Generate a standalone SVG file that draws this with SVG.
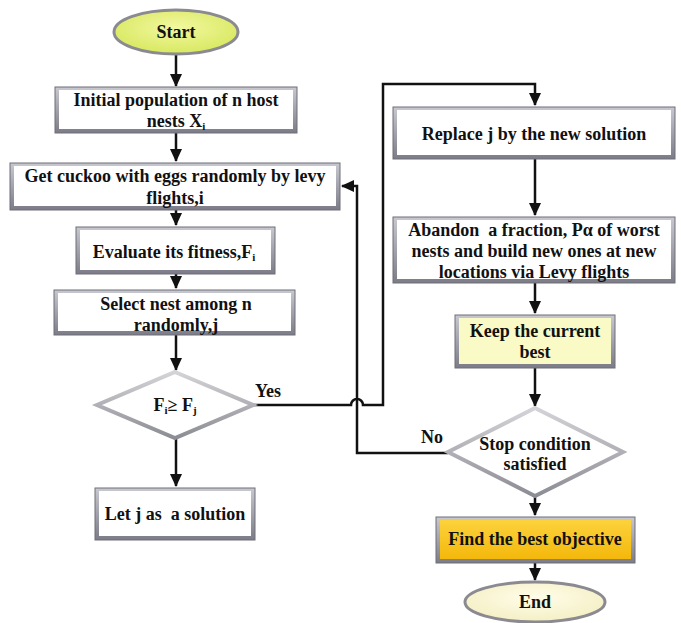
<svg xmlns="http://www.w3.org/2000/svg" width="681" height="623" viewBox="0 0 681 623">
<style>
.t{font-family:'Liberation Serif','Times New Roman','DejaVu Serif',serif;font-weight:bold;font-size:18px;fill:#111;text-anchor:middle}
.s{font-size:11px}
.c{fill:none;stroke:#111;stroke-width:2.5}
.bo{fill:url(#bev);stroke:#6f6f78;stroke-width:1}
.bi{fill:#fff}
.dm{fill:#fff;stroke:url(#dg);stroke-width:4}
</style>
<defs>
<marker id="ah" markerUnits="userSpaceOnUse" markerWidth="14" markerHeight="12" refX="12" refY="6" orient="auto">
<path d="M0,0 L13,6 L0,12 z" fill="#111"/>
</marker>
<linearGradient id="bev" x1="0" y1="0" x2="0" y2="1">
<stop offset="0" stop-color="#c8c8d0"/><stop offset="1" stop-color="#7c7c88"/>
</linearGradient>
<linearGradient id="dg" x1="0" y1="0" x2="0" y2="1">
<stop offset="0" stop-color="#d4d4d8"/><stop offset="1" stop-color="#8c8c94"/>
</linearGradient>
<radialGradient id="startg" cx="0.5" cy="0.4" r="0.6">
<stop offset="0" stop-color="#f2f8a0"/><stop offset="1" stop-color="#d8e860"/>
</radialGradient>
<radialGradient id="endg" cx="0.5" cy="0.4" r="0.6">
<stop offset="0" stop-color="#fffdea"/><stop offset="1" stop-color="#f4efc4"/>
</radialGradient>
<linearGradient id="gold" x1="0" y1="0" x2="0" y2="1">
<stop offset="0" stop-color="#fcd23c"/><stop offset="1" stop-color="#f4b80c"/>
</linearGradient>
</defs>

<g id="connectors">
<path class="c" d="M176,55 V86" marker-end="url(#ah)"/>
<path class="c" d="M176,133 V161" marker-end="url(#ah)"/>
<path class="c" d="M176,210 V225" marker-end="url(#ah)"/>
<path class="c" d="M176,274 V288" marker-end="url(#ah)"/>
<path class="c" d="M176,335 V370" marker-end="url(#ah)"/>
<path class="c" d="M176,438 V486" marker-end="url(#ah)"/>
<path class="c" d="M253,405 H351 a6,6 0 0 1 12,0 H383 V84 H535 V105" marker-end="url(#ah)"/>
<path class="c" d="M535,159 V215" marker-end="url(#ah)"/>
<path class="c" d="M535,283 V313" marker-end="url(#ah)"/>
<path class="c" d="M535,368 V406" marker-end="url(#ah)"/>
<path class="c" d="M535,496 V515" marker-end="url(#ah)"/>
<path class="c" d="M535,563 V580" marker-end="url(#ah)"/>
<path class="c" d="M448,453 H357 V186 H342" marker-end="url(#ah)"/>
<text class="t" x="268" y="397">Yes</text>
<text class="t" x="432" y="443">No</text>
</g>

<g id="start">
<ellipse cx="176" cy="32" rx="62" ry="22" fill="url(#startg)" stroke="#8a8a90" stroke-width="3"/>
<text class="t" x="176" y="38">Start</text>
</g>

<g id="init">
<rect class="bo" x="55" y="87" width="242" height="46"/>
<rect class="bi" x="59" y="90" width="234" height="39"/>
<text class="t" x="176" y="106">Initial population of n host</text>
<text class="t" x="176" y="127">nests X<tspan class="s" dy="3">i</tspan></text>
</g>

<g id="cuckoo">
<rect class="bo" x="10" y="163" width="330" height="47"/>
<rect class="bi" x="14" y="166" width="322" height="40"/>
<text class="t" x="175" y="182">Get cuckoo with eggs randomly by levy</text>
<text class="t" x="175" y="204">flights,i</text>
</g>

<g id="evaluate">
<rect class="bo" x="76" y="227" width="199" height="47"/>
<rect class="bi" x="80" y="230" width="191" height="40"/>
<text class="t" x="174" y="258">Evaluate its fitness,F<tspan class="s" dy="3">i</tspan></text>
</g>

<g id="select">
<rect class="bo" x="54" y="290" width="241" height="45"/>
<rect class="bi" x="58" y="293" width="233" height="38"/>
<text class="t" x="176" y="310">Select nest among n</text>
<text class="t" x="176" y="331">randomly,j</text>
</g>

<g id="compare">
<polygon class="dm" points="175,372 253,405 175,438 97,405"/>
<text class="t" x="175" y="411">F<tspan class="s" dy="3">i</tspan><tspan dy="-3">≥ F</tspan><tspan class="s" dy="3">j</tspan></text>
</g>

<g id="letj">
<rect class="bo" x="95" y="488" width="160" height="52"/>
<rect class="bi" x="99" y="491" width="152" height="45"/>
<text class="t" x="175" y="520" xml:space="preserve">Let j as  a solution</text>
</g>

<g id="replace">
<rect class="bo" x="393" y="107" width="282" height="52"/>
<rect class="bi" x="397" y="110" width="274" height="45"/>
<text class="t" x="534" y="140">Replace j by the new solution</text>
</g>

<g id="abandon">
<rect class="bo" x="393" y="217" width="282" height="66"/>
<rect class="bi" x="397" y="220" width="274" height="59"/>
<text class="t" x="534" y="236" xml:space="preserve">Abandon  a fraction, Pα of worst</text>
<text class="t" x="534" y="257">nests and build new ones at new</text>
<text class="t" x="534" y="278">locations via Levy flights</text>
</g>

<g id="keep">
<rect class="bo" x="455" y="315" width="160" height="53"/>
<rect x="459" y="318" width="152" height="46" fill="#fafac6"/>
<text class="t" x="535" y="337">Keep the current</text>
<text class="t" x="535" y="358">best</text>
</g>

<g id="stop">
<polygon class="dm" points="535,408 623,452 535,496 448,452"/>
<text class="t" x="535" y="450">Stop condition</text>
<text class="t" x="535" y="470">satisfied</text>
</g>

<g id="best">
<rect class="bo" x="436" y="517" width="199" height="46"/>
<rect x="440" y="520" width="191" height="39" fill="url(#gold)"/>
<text class="t" x="535" y="545">Find the best objective</text>
</g>

<g id="end">
<ellipse cx="535" cy="602" rx="70" ry="20" fill="url(#endg)" stroke="#8a8a90" stroke-width="3"/>
<text class="t" x="535" y="608">End</text>
</g>
</svg>
